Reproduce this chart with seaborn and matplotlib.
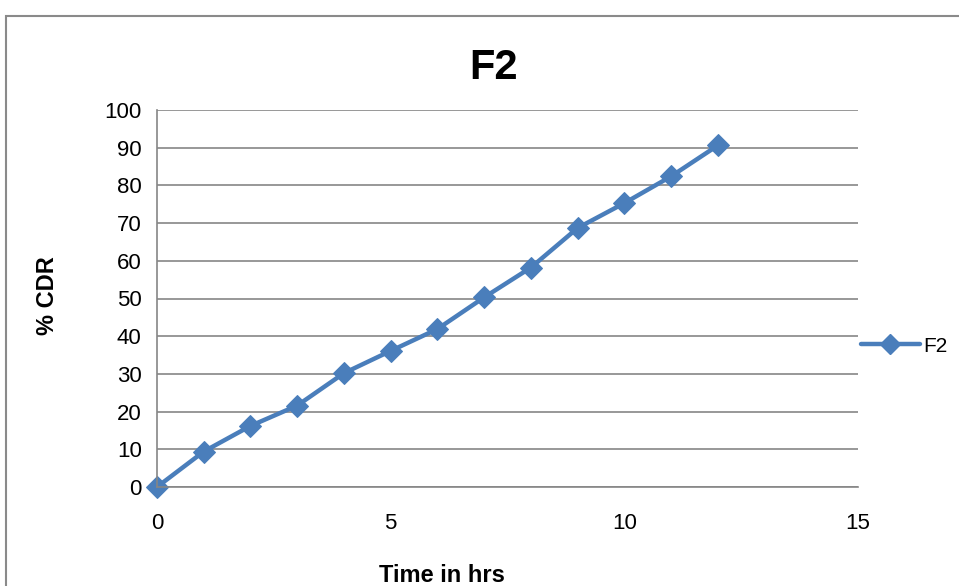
import matplotlib
matplotlib.use("Agg")
import matplotlib.pyplot as plt
import seaborn as sns
import pandas as pd
from matplotlib.patches import Rectangle

# Cumulative drug release for formulation F2
time_hrs = [0, 1, 2, 3, 4, 5, 6, 7, 8, 9, 10, 11, 12]
cdr_pct = [0, 9.4, 16.2, 21.6, 30.2, 36.1, 41.9, 50.3, 58.2, 68.7, 75.3, 82.4, 90.6]
series_name = "F2"
x_ticks = [0, 5, 10, 15]
y_ticks = [0, 10, 20, 30, 40, 50, 60, 70, 80, 90, 100]

df = pd.DataFrame({"Time": time_hrs, "CDR": cdr_pct, "Series": series_name})

sns.set_theme(style="white")
plt.rcParams["font.family"] = ["Liberation Sans", "DejaVu Sans"]
plt.rcParams["text.color"] = "black"

line_color = "#4A7EBB"
grid_color = "#868686"

fig = plt.figure(figsize=(9.59, 5.86), dpi=100)
ax = fig.add_axes([157 / 959, 1 - 487 / 586, (858 - 157) / 959, (487 - 110) / 586])

sns.lineplot(data=df, x="Time", y="CDR", hue="Series", palette=[line_color],
             marker="D", markersize=11, markeredgecolor=line_color,
             linewidth=3.2, ax=ax, legend=False)

ax.set_xlim(0, 15)
ax.set_ylim(0, 100)
ax.set_xticks(x_ticks)
ax.set_yticks(y_ticks)
ax.tick_params(axis="both", labelsize=16, labelcolor="black", length=5,
               width=1, direction="out", color=grid_color)
ax.tick_params(axis="x", pad=14)
ax.tick_params(axis="y", pad=6)
ax.yaxis.grid(True, color=grid_color, linewidth=1.2)
ax.xaxis.grid(False)
for side in ["top", "right"]:
    ax.spines[side].set_visible(False)
for side in ["left", "bottom"]:
    ax.spines[side].set_color(grid_color)
    ax.spines[side].set_linewidth(1.2)
# keep the first marker fully visible at the origin
for ln in ax.get_lines():
    ln.set_clip_on(False)

ax.set_xlabel("")
ax.set_ylabel("")
fig.text(48 / 959, 1 - 296 / 586, "% CDR", rotation=90, fontsize=17,
         fontweight="bold", ha="center", va="center", color="black")
fig.text(442 / 959, 1 - 575 / 586, "Time in hrs", fontsize=17,
         fontweight="bold", ha="center", va="center", color="black")
fig.text(493 / 959, 1 - 68 / 586, series_name, fontsize=30,
         fontweight="bold", ha="center", va="center", color="black")

# Legend entry at the right of the plot area
handle = plt.Line2D([], [], color=line_color, marker="D", markersize=10,
                    linewidth=3.2)
fig.legend([handle], [series_name], loc="center left",
           bbox_to_anchor=(857 / 959, 1 - 346 / 586), frameon=False,
           fontsize=15, handlelength=2.8, handletextpad=0.2,
           borderaxespad=0, borderpad=0.2, labelcolor="black")

# Chart border
fig.patches.append(Rectangle((6 / 959, -0.1), 1.2, 1 - 16 / 586 + 0.1,
                             transform=fig.transFigure, fill=False,
                             edgecolor="#8a8a8a", linewidth=1.5))

fig.savefig("out.png", dpi=100)
